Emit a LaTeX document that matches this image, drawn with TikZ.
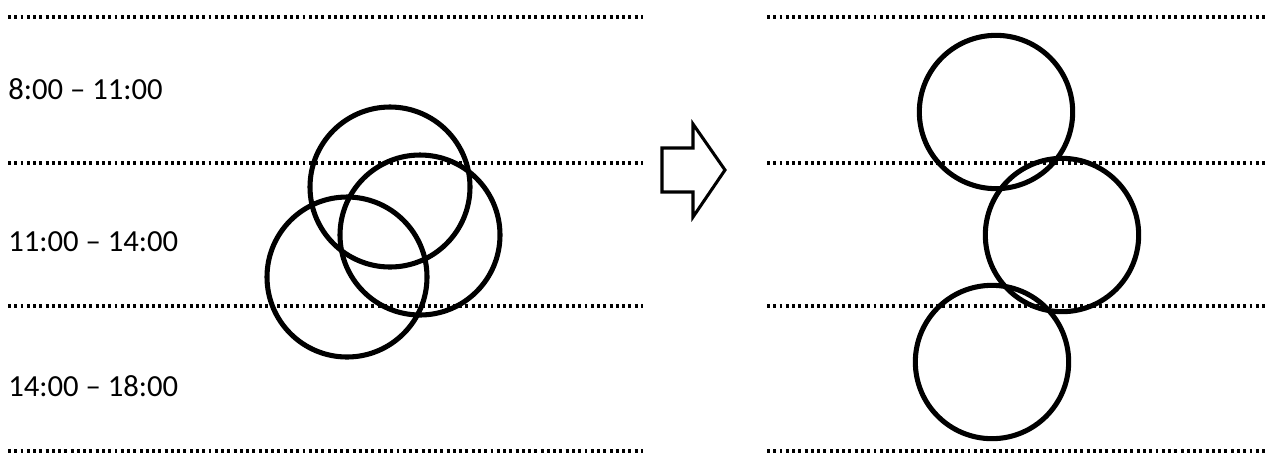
\documentclass[tikz,border=0pt]{standalone}
\usepackage{fontspec}
\setmainfont{Carlito}
\usetikzlibrary{positioning}

\begin{document}
\begin{tikzpicture}[
    x=0.75pt,y=-0.75pt,
    sep/.style={line width=2.3pt,dash pattern=on 2.2pt off 2.5pt},
    slot/.style={draw,circle,line width=3.8pt,inner sep=0pt,outer sep=0pt},
    big/.style={slot,minimum size=120pt},
    small/.style={slot,minimum size=115pt},
    lbl/.style={anchor=base west,inner sep=0pt,font=\fontsize{23}{28}\selectfont}]
  \useasboundingbox (0,0) rectangle (1273,455);
  % time slot borders
  \foreach \y [count=\i] in {17,163,306,451} {
    \coordinate (l\i) at (8,\y);
    \coordinate (m\i) at (643,\y);
    \coordinate (r\i) at (767,\y);
    \coordinate (s\i) at (1268,\y);
    \draw[sep] (l\i) -- (m\i);
    \draw[sep] (r\i) -- (s\i);
  }
  \node[lbl] (t1) at (8,99) {8:00 -- 11:00};
  \node[lbl] (t2) at (8,251) {11:00 -- 14:00};
  \node[lbl] (t3) at (8,396) {14:00 -- 18:00};
  % before
  \node[big] (a1) at (390,187) {};
  \node[big] (a2) at (420,235) {};
  \node[big] (a3) at (347,277) {};
  % arrow
  \draw[line width=2.3pt,line join=miter]
    (662,148) -- (693,148) -- (693,124) -- (725,170) -- (693,217)
    -- (693,192) -- (662,192) -- cycle;
  % after
  \node[small] (b1) at (996,112) {};
  \node[small] (b2) at (1062,235) {};
  \node[small] (b3) at (992,362) {};
\end{tikzpicture}
\end{document}
